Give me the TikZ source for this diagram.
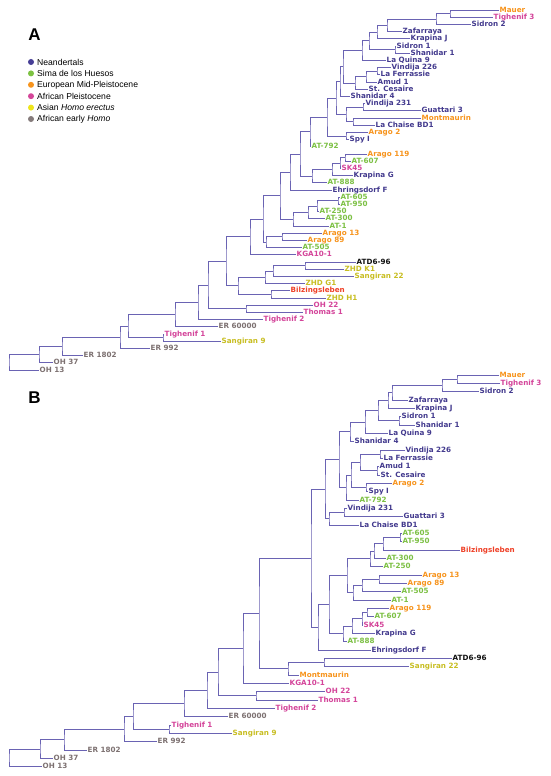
\documentclass[tikz,border=0pt]{standalone}
\usepackage{fontspec}
\setmainfont{Liberation Sans}
\newfontfamily\lblfont{DejaVu Sans}
\usetikzlibrary{calc}
\definecolor{brc}{HTML}{6A63B3}
\definecolor{nv}{HTML}{433A8E}
\definecolor{gr}{HTML}{7CC043}
\definecolor{or}{HTML}{F7941D}
\definecolor{pk}{HTML}{D4449A}
\definecolor{yl}{HTML}{C8BE22}
\definecolor{gy}{HTML}{7D7171}
\definecolor{rd}{HTML}{EF4128}
\definecolor{bk}{HTML}{111111}
\definecolor{lnv}{HTML}{463E96}
\definecolor{lgr}{HTML}{7DC242}
\definecolor{lor}{HTML}{F7941D}
\definecolor{lpk}{HTML}{D44699}
\definecolor{lyl}{HTML}{EEE51A}
\definecolor{lgy}{HTML}{857B7B}
\tikzset{
  br/.style={draw=brc, line width=0.8pt},
  lf/.style={anchor=west, inner xsep=0.5pt, inner ysep=0pt, font=\lblfont\fontsize{7.2}{7.2}\selectfont\bfseries, text height=5.3pt, text depth=1.1pt},
  lg/.style={anchor=west, inner sep=0pt, font=\fontsize{8.6}{8.6}\selectfont},
  dot/.style={circle, inner sep=0pt, minimum size=6pt},
  panel/.style={font=\fontsize{17}{17}\selectfont\bfseries, inner sep=0pt}
}
\newcommand\mkclade[4]{%
  \coordinate (#1-x) at (#2,0);
  \coordinate (#1-m) at ($(#3)!.5!(#4)$);
  \coordinate (#1) at (#1-x |- #1-m);
  \draw[br] (#3) -| (#1) |- (#4);
}
\newcommand\lfA[5]{\node[lf,text=#4] (#1) at (#3,{10+7.2*#2}) {#5};}
\newcommand\lfB[5]{\node[lf,text=#4] (#1) at (#3,{375+8.333*#2}) {#5};}
\begin{document}
\begin{tikzpicture}[x=1pt,y=-1pt]
\useasboundingbox (0,0) rectangle (550,776);
\fill[white] (0,0) rectangle (550,776);
% ---------- legend ----------
\node[panel] (pA) at (34.5,35) {A};
\node[panel] (pB) at (34.5,398) {B};
\node[dot,fill=lnv] (d1) at (31,62) {};
\node[dot,fill=lgr] (d2) at (31,73.4) {};
\node[dot,fill=lor] (d3) at (31,84.8) {};
\node[dot,fill=lpk] (d4) at (31,96.2) {};
\node[dot,fill=lyl] (d5) at (31,107.6) {};
\node[dot,fill=lgy] (d6) at (31,119) {};
\node[lg] (t1) at (37,62) {Neandertals};
\node[lg] (t2) at (37,73.4) {Sima de los Huesos};
\node[lg] (t3) at (37,84.8) {European Mid-Pleistocene};
\node[lg] (t4) at (37,96.2) {African Pleistocene};
\node[lg] (t5) at (37,107.6) {Asian \textit{Homo erectus}};
\node[lg] (t6) at (37,119) {African early \textit{Homo}};
% ---------- tree A leaves ----------
\lfA{a0}{0}{499}{or}{Mauer}
\lfA{a1}{1}{493}{pk}{Tighenif 3}
\lfA{a2}{2}{471}{nv}{Sidron 2}
\lfA{a3}{3}{402}{nv}{Zafarraya}
\lfA{a4}{4}{410}{nv}{Krapina J}
\lfA{a5}{5}{396}{nv}{Sidron 1}
\lfA{a6}{6}{410}{nv}{Shanidar 1}
\lfA{a7}{7}{386}{nv}{La Quina 9}
\lfA{a8}{8}{391}{nv}{Vindija 226}
\lfA{a9}{9}{380}{nv}{La Ferrassie}
\lfA{a10}{10}{377}{nv}{Amud 1}
\lfA{a11}{11}{368}{nv}{St. Cesaire}
\lfA{a12}{12}{350}{nv}{Shanidar 4}
\lfA{a13}{13}{365}{nv}{Vindija 231}
\lfA{a14}{14}{421}{nv}{Guattari 3}
\lfA{a15}{15}{421}{or}{Montmaurin}
\lfA{a16}{16}{375}{nv}{La Chaise BD1}
\lfA{a17}{17}{368}{or}{Arago 2}
\lfA{a18}{18}{349}{nv}{Spy I}
\lfA{a19}{19}{311}{gr}{AT-792}
\lfA{a20}{20}{367}{or}{Arago 119}
\lfA{a21}{21}{351}{gr}{AT-607}
\lfA{a22}{22}{341}{pk}{SK45}
\lfA{a23}{23}{353}{nv}{Krapina G}
\lfA{a24}{24}{327}{gr}{AT-888}
\lfA{a25}{25}{332}{nv}{Ehringsdorf F}
\lfA{a26}{26}{340}{gr}{AT-605}
\lfA{a27}{27}{340}{gr}{AT-950}
\lfA{a28}{28}{319}{gr}{AT-250}
\lfA{a29}{29}{325}{gr}{AT-300}
\lfA{a30}{30}{329}{gr}{AT-1}
\lfA{a31}{31}{322}{or}{Arago 13}
\lfA{a32}{32}{307}{or}{Arago 89}
\lfA{a33}{33}{302}{gr}{AT-505}
\lfA{a34}{34}{296}{pk}{KGA10-1}
\lfA{a35}{35}{356}{bk}{ATD6-96}
\lfA{a36}{36}{344}{yl}{ZHD K1}
\lfA{a37}{37}{354}{yl}{Sangiran 22}
\lfA{a38}{38}{305}{yl}{ZHD G1}
\lfA{a39}{39}{290}{rd}{Bilzingsleben}
\lfA{a40}{40}{326}{yl}{ZHD H1}
\lfA{a41}{41}{313}{pk}{OH 22}
\lfA{a42}{42}{303}{pk}{Thomas 1}
\lfA{a43}{43}{263}{pk}{Tighenif 2}
\lfA{a44}{44}{218}{gy}{ER 60000}
\lfA{a45}{45}{164}{pk}{Tighenif 1}
\lfA{a46}{46}{221}{yl}{Sangiran 9}
\lfA{a47}{47}{150}{gy}{ER 992}
\lfA{a48}{48}{83}{gy}{ER 1802}
\lfA{a49}{49}{53}{gy}{OH 37}
\lfA{a50}{50}{39}{gy}{OH 13}
% ---------- tree A clades ----------
\mkclade{A-mt}{450}{a0.west}{a1.west}
\mkclade{A-mts}{436}{A-mt}{a2.west}
\mkclade{A-z}{387}{A-mts}{a3.west}
\mkclade{A-zk}{377}{A-z}{a4.west}
\mkclade{A-ss}{395}{a5.west}{a6.west}
\mkclade{A-zkss}{369}{A-zk}{A-ss}
\mkclade{A-a}{362}{A-zkss}{a7.west}
\mkclade{A-vl}{377}{a8.west}{a9.west}
\mkclade{A-vla}{366}{A-vl}{a10.west}
\mkclade{A-vlas}{355}{A-vla}{a11.west}
\mkclade{A-b}{343}{A-a}{A-vlas}
\mkclade{A-c}{340}{A-b}{a12.west}
\mkclade{A-vg}{363}{a13.west}{a14.west}
\mkclade{A-mc}{353}{a15.west}{a16.west}
\mkclade{A-d}{346}{A-vg}{A-mc}
\mkclade{A-f}{336}{A-c}{A-d}
\mkclade{A-as}{346}{a17.west}{a18.west}
\mkclade{A-e}{327}{A-f}{A-as}
\mkclade{A-g}{310}{A-e}{a19.west}
\mkclade{A-aa}{345}{a20.west}{a21.west}
\mkclade{A-aas}{340}{A-aa}{a22.west}
\mkclade{A-h}{332}{A-aas}{a23.west}
\mkclade{A-i}{312}{A-h}{a24.west}
\mkclade{A-j}{300}{A-g}{A-i}
\mkclade{A-k}{290}{A-j}{a25.west}
\mkclade{A-at1}{338}{a26.west}{a27.west}
\mkclade{A-at2}{317}{A-at1}{a28.west}
\mkclade{A-at3}{308}{A-at2}{a29.west}
\mkclade{A-at4}{293}{A-at3}{a30.west}
\mkclade{A-l}{280}{A-k}{A-at4}
\mkclade{A-ar}{282}{a31.west}{a32.west}
\mkclade{A-x}{266}{A-ar}{a33.west}
\mkclade{A-w}{263}{A-l}{A-x}
\mkclade{A-v}{250}{A-w}{a34.west}
\mkclade{A-az}{305}{a35.west}{a36.west}
\mkclade{A-azs}{273}{A-az}{a37.west}
\mkclade{A-ag}{265}{A-azs}{a38.west}
\mkclade{A-bz}{271}{a39.west}{a40.west}
\mkclade{A-t}{238}{A-ag}{A-bz}
\mkclade{A-u}{226}{A-v}{A-t}
\mkclade{A-ot}{246}{a41.west}{a42.west}
\mkclade{A-s}{208}{A-u}{A-ot}
\mkclade{A-r}{198}{A-s}{a43.west}
\mkclade{A-q}{175}{A-r}{a44.west}
\mkclade{A-ts}{163}{a45.west}{a46.west}
\mkclade{A-m}{128}{A-q}{A-ts}
\mkclade{A-n}{120}{A-m}{a47.west}
\mkclade{A-o}{62}{A-n}{a48.west}
\mkclade{A-p}{39}{A-o}{a49.west}
\mkclade{A-root}{9}{A-p}{a50.west}
% ---------- tree B leaves ----------
\lfB{b0}{0}{499}{or}{Mauer}
\lfB{b1}{1}{500}{pk}{Tighenif 3}
\lfB{b2}{2}{479}{nv}{Sidron 2}
\lfB{b3}{3}{408}{nv}{Zafarraya}
\lfB{b4}{4}{415}{nv}{Krapina J}
\lfB{b5}{5}{401}{nv}{Sidron 1}
\lfB{b6}{6}{415}{nv}{Shanidar 1}
\lfB{b7}{7}{388}{nv}{La Quina 9}
\lfB{b8}{8}{354}{nv}{Shanidar 4}
\lfB{b9}{9}{405}{nv}{Vindija 226}
\lfB{b10}{10}{383}{nv}{La Ferrassie}
\lfB{b11}{11}{379}{nv}{Amud 1}
\lfB{b12}{12}{380}{nv}{St. Cesaire}
\lfB{b13}{13}{392}{or}{Arago 2}
\lfB{b14}{14}{368}{nv}{Spy I}
\lfB{b15}{15}{359}{gr}{AT-792}
\lfB{b16}{16}{347}{nv}{Vindija 231}
\lfB{b17}{17}{403}{nv}{Guattari 3}
\lfB{b18}{18}{359}{nv}{La Chaise BD1}
\lfB{b19}{19}{402}{gr}{AT-605}
\lfB{b20}{20}{402}{gr}{AT-950}
\lfB{b21}{21}{460}{rd}{Bilzingsleben}
\lfB{b22}{22}{386}{gr}{AT-300}
\lfB{b23}{23}{383}{gr}{AT-250}
\lfB{b24}{24}{422}{or}{Arago 13}
\lfB{b25}{25}{407}{or}{Arago 89}
\lfB{b26}{26}{401}{gr}{AT-505}
\lfB{b27}{27}{391}{gr}{AT-1}
\lfB{b28}{28}{389}{or}{Arago 119}
\lfB{b29}{29}{374}{gr}{AT-607}
\lfB{b30}{30}{363}{pk}{SK45}
\lfB{b31}{31}{375}{nv}{Krapina G}
\lfB{b32}{32}{347}{gr}{AT-888}
\lfB{b33}{33}{371}{nv}{Ehringsdorf F}
\lfB{b34}{34}{452}{bk}{ATD6-96}
\lfB{b35}{35}{409}{yl}{Sangiran 22}
\lfB{b36}{36}{299}{or}{Montmaurin}
\lfB{b37}{37}{289}{pk}{KGA10-1}
\lfB{b38}{38}{325}{pk}{OH 22}
\lfB{b39}{39}{318}{pk}{Thomas 1}
\lfB{b40}{40}{275}{pk}{Tighenif 2}
\lfB{b41}{41}{228}{gy}{ER 60000}
\lfB{b42}{42}{171}{pk}{Tighenif 1}
\lfB{b43}{43}{232}{yl}{Sangiran 9}
\lfB{b44}{44}{157}{gy}{ER 992}
\lfB{b45}{45}{87}{gy}{ER 1802}
\lfB{b46}{46}{53}{gy}{OH 37}
\lfB{b47}{47}{42}{gy}{OH 13}
% ---------- tree B clades ----------
\mkclade{B-mt}{457}{b0.west}{b1.west}
\mkclade{B-mts}{442}{B-mt}{b2.west}
\mkclade{B-z}{392}{B-mts}{b3.west}
\mkclade{B-zk}{388}{B-z}{b4.west}
\mkclade{B-ss}{399}{b5.west}{b6.west}
\mkclade{B-zkss}{378}{B-zk}{B-ss}
\mkclade{B-a}{365}{B-zkss}{b7.west}
\mkclade{B-ca}{350}{B-a}{b8.west}
\mkclade{B-vl}{380}{b9.west}{b10.west}
\mkclade{B-amst}{377}{b11.west}{b12.west}
\mkclade{B-vlas}{360}{B-vl}{B-amst}
\mkclade{B-as}{366}{b13.west}{b14.west}
\mkclade{B-e}{351}{B-vlas}{B-as}
\mkclade{B-g}{346}{B-e}{b15.west}
\mkclade{B-c}{339}{B-ca}{B-g}
\mkclade{B-vg}{344}{b16.west}{b17.west}
\mkclade{B-vgl}{329}{B-vg}{b18.west}
\mkclade{B-f}{325}{B-c}{B-vgl}
\mkclade{B-at1}{400}{b19.west}{b20.west}
\mkclade{B-ab}{383}{B-at1}{b21.west}
\mkclade{B-abt}{374}{B-ab}{b22.west}
\mkclade{B-abtt}{370}{B-abt}{b23.west}
\mkclade{B-ar}{379}{b24.west}{b25.west}
\mkclade{B-ara}{362}{B-ar}{b26.west}
\mkclade{B-ara1}{353}{B-ara}{b27.west}
\mkclade{B-x}{347}{B-abtt}{B-ara1}
\mkclade{B-aa}{367}{b28.west}{b29.west}
\mkclade{B-aas}{362}{B-aa}{b30.west}
\mkclade{B-h}{352}{B-aas}{b31.west}
\mkclade{B-i}{343}{B-h}{b32.west}
\mkclade{B-j}{329}{B-x}{B-i}
\mkclade{B-k}{318}{B-j}{b33.west}
\mkclade{B-l}{311}{B-f}{B-k}
\mkclade{B-as22}{324}{b34.west}{b35.west}
\mkclade{B-m}{288}{B-as22}{b36.west}
\mkclade{B-n}{259}{B-l}{B-m}
\mkclade{B-o}{243}{B-n}{b37.west}
\mkclade{B-ot}{256}{b38.west}{b39.west}
\mkclade{B-p}{218}{B-o}{B-ot}
\mkclade{B-q}{207}{B-p}{b40.west}
\mkclade{B-r}{184}{B-q}{b41.west}
\mkclade{B-ts}{169}{b42.west}{b43.west}
\mkclade{B-mm}{133}{B-r}{B-ts}
\mkclade{B-nn}{124}{B-mm}{b44.west}
\mkclade{B-oo}{64}{B-nn}{b45.west}
\mkclade{B-pp}{40}{B-oo}{b46.west}
\mkclade{B-root}{9}{B-pp}{b47.west}
\end{tikzpicture}
\end{document}
